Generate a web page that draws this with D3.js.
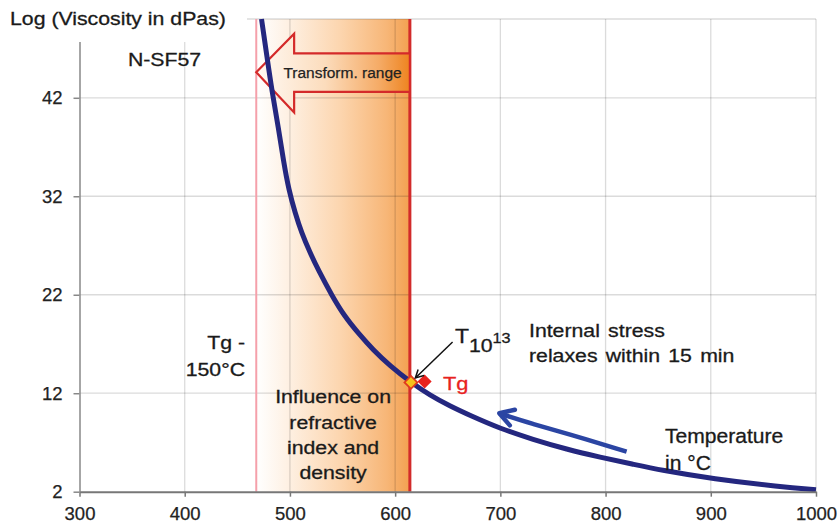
<!DOCTYPE html>
<html>
<head>
<meta charset="utf-8">
<script src="https://cdn.jsdelivr.net/npm/d3@7"></script>
<style>
  body { margin: 0; background: #fff; }
  svg { display: block; font-family: "Liberation Sans", Arial, sans-serif; }
</style>
</head>
<body>
<main></main>
<script>
// chart data
const tempTicks = [300, 400, 500, 600, 700, 800, 900, 1000];
const logTicks = [2, 12, 22, 32, 42];
const curveTemp = [473, 478, 483, 489, 494, 499, 505, 511, 519, 527, 540, 552, 565, 579, 595, 615, 633, 652, 671, 700, 731, 763, 795, 826, 852, 902, 966, 1000];
const curveLog = [50, 46.3, 42.6, 39.0, 35.5, 32.6, 30.3, 28.3, 26.3, 24.5, 21.9, 19.8, 18.1, 16.4, 14.8, 13.1, 11.8, 10.7, 9.75, 8.4, 7.3, 6.3, 5.5, 4.8, 4.2, 3.3, 2.5, 2.2];
const tgTemp = 614;            // red line
const tgLowTemp = 468;         // Tg - 150 line
const t13Point = [615, 13.1];  // yellow diamond
const tgPoint = [628, 13.2];   // red diamond
const coolTemp = [820, 763, 731, 699];   // blue arrow along the curve
const coolLog = [6.06, 7.93, 8.85, 9.96];

// layout
const width = 839;
const height = 525;
const plotLeft = 79.5;
const plotRight = 816;
const plotTop = 19;
const plotBottom = 491.7;
const textStretch = 1.15;

const svg = d3.select('main')
  .append('svg')
  .attr('width', width)
  .attr('height', height);

const x = d3.scaleLinear().domain([300, 1000]).range([plotLeft, plotRight]);
const y = d3.scaleLinear().domain([2, 50]).range([plotBottom, plotTop]);

/************************************************************************
  gradients
************************************************************************/
const defs = svg.append('defs');

const bandGrad = defs.append('linearGradient').attr('id', 'bandGrad');
[[0, '#ffffff'], [0.2, '#fef1e4'], [0.55, '#fcd5ae'], [0.85, '#f7b677'], [1, '#f3a050']]
  .forEach(([o, c]) => bandGrad.append('stop').attr('offset', o).attr('stop-color', c));

const arrowGrad = defs.append('linearGradient').attr('id', 'arrowGrad');
[[0, '#fffaf5'], [0.45, '#fcdcbc'], [0.8, '#f5ab66'], [1, '#ee8420']]
  .forEach(([o, c]) => arrowGrad.append('stop').attr('offset', o).attr('stop-color', c));

/************************************************************************
  transformation range band
************************************************************************/
svg.append('rect')
  .attr('x', x(tgLowTemp))
  .attr('y', plotTop)
  .attr('width', x(tgTemp) - x(tgLowTemp))
  .attr('height', plotBottom - plotTop)
  .attr('fill', 'url(#bandGrad)');

/************************************************************************
  grid
************************************************************************/
const grid = svg.append('g')
  .attr('stroke', '#000')
  .attr('stroke-opacity', 0.14)
  .attr('stroke-width', 1.3);

grid.selectAll('.vgrid')
  .data(tempTicks.slice(1))
  .enter()
  .append('line')
  .attr('x1', d => x(d))
  .attr('x2', d => x(d))
  .attr('y1', plotTop)
  .attr('y2', plotBottom);

grid.selectAll('.hgrid')
  .data(logTicks.slice(1).concat([50]))
  .enter()
  .append('line')
  .attr('x1', plotLeft)
  .attr('x2', plotRight)
  .attr('y1', d => y(d))
  .attr('y2', d => y(d));

// Tg - 150 and Tg lines
svg.append('line')
  .attr('x1', x(tgLowTemp)).attr('x2', x(tgLowTemp))
  .attr('y1', plotTop).attr('y2', plotBottom)
  .attr('stroke', '#f5a0aa')
  .attr('stroke-width', 2);

svg.append('line')
  .attr('x1', x(tgTemp)).attr('x2', x(tgTemp))
  .attr('y1', plotTop).attr('y2', plotBottom)
  .attr('stroke', '#d22b2b')
  .attr('stroke-width', 3);

/************************************************************************
  "Transform. range" arrow
************************************************************************/
const headTemp = 504;
const arrowShape = [
  [tgLowTemp, 44.6], [headTemp, 48.5], [headTemp, 46.5], [tgTemp, 46.5],
  [tgTemp, 42.6], [headTemp, 42.6], [headTemp, 40.5]
];
svg.append('polygon')
  .attr('points', arrowShape.map(d => `${x(d[0])},${y(d[1])}`).join(' '))
  .attr('fill', 'url(#arrowGrad)')
  .attr('stroke', '#d42a2a')
  .attr('stroke-width', 2.2)
  .attr('stroke-linejoin', 'miter');

svg.append('text')
  .attr('x', x(550))
  .attr('y', y(43.97))
  .attr('text-anchor', 'middle')
  .attr('font-size', 15.5)
  .attr('fill', '#222')
  .attr('stroke', '#222')
  .attr('stroke-width', 0.25)
  .text('Transform. range');

/************************************************************************
  viscosity curve
************************************************************************/
const curveData = curveTemp.map((t, i) => [t, curveLog[i]]);
const line = d3.line()
  .x(d => x(d[0]))
  .y(d => y(d[1]))
  .curve(d3.curveBasis);

svg.append('path')
  .datum(curveData)
  .attr('d', line)
  .attr('fill', 'none')
  .attr('stroke', '#24277f')
  .attr('stroke-width', 5)
  .attr('stroke-linecap', 'butt');

// open arrow head from a tip, pointing away from a previous point (pixels)
const headPath = (tip, from, len, spread) => {
  const a = Math.atan2(from[1] - tip[1], from[0] - tip[0]);
  const s = spread * Math.PI / 180;
  const p1 = [tip[0] + len * Math.cos(a - s), tip[1] + len * Math.sin(a - s)];
  const p2 = [tip[0] + len * Math.cos(a + s), tip[1] + len * Math.sin(a + s)];
  return `M${p1[0]},${p1[1]}L${tip[0]},${tip[1]}L${p2[0]},${p2[1]}`;
};

// cooling direction arrow
const coolData = coolTemp.map((t, i) => [t, coolLog[i]]);
svg.append('path')
  .datum(coolData)
  .attr('d', line)
  .attr('fill', 'none')
  .attr('stroke', '#2b45a3')
  .attr('stroke-width', 4.5);

const coolTip = [x(coolTemp[3]), y(coolLog[3])];
svg.append('path')
  .attr('d', headPath(coolTip, [x(731), y(8.85)], 16, 31))
  .attr('fill', 'none')
  .attr('stroke', '#2b45a3')
  .attr('stroke-width', 4.5)
  .attr('stroke-linecap', 'round')
  .attr('stroke-linejoin', 'round');

/************************************************************************
  markers
************************************************************************/
const diamond = d3.symbol().type(d3.symbolDiamond2);

svg.append('path')
  .attr('d', diamond.size(125)())
  .attr('transform', `translate(${x(tgPoint[0])},${y(tgPoint[1])})`)
  .attr('fill', '#e8221e');

svg.append('path')
  .attr('d', diamond.size(105)())
  .attr('transform', `translate(${x(t13Point[0])},${y(t13Point[1])})`)
  .attr('fill', '#f6c21c')
  .attr('stroke', '#e03a1e')
  .attr('stroke-width', 1.8);

// pointer from the T label to the yellow diamond
const ptrFrom = [x(654.6), y(17.2)];
const ptrTip = [x(619.2), y(13.55)];
svg.append('line')
  .attr('x1', ptrFrom[0]).attr('y1', ptrFrom[1])
  .attr('x2', ptrTip[0]).attr('y2', ptrTip[1])
  .attr('stroke', '#111')
  .attr('stroke-width', 1.5);
svg.append('path')
  .attr('d', headPath(ptrTip, ptrFrom, 9, 28))
  .attr('fill', 'none')
  .attr('stroke', '#111')
  .attr('stroke-width', 1.5);

/************************************************************************
  axes
************************************************************************/
const fontStack = '"Liberation Sans", Arial, sans-serif';

const xAxis = svg.append('g')
  .attr('transform', `translate(0, ${plotBottom})`)
  .call(d3.axisBottom(x).tickValues(tempTicks).tickFormat(d3.format('d'))
    .tickSize(5).tickPadding(10).tickSizeOuter(0));
xAxis.select('.domain').attr('stroke', '#777').attr('stroke-width', 2);
xAxis.selectAll('.tick line').attr('stroke', '#777').attr('stroke-width', 1.5);
xAxis.selectAll('text').attr('font-size', 18.5).attr('fill', '#222')
  .attr('stroke', '#222').attr('stroke-width', 0.25).attr('font-family', fontStack);

const yAxis = svg.append('g')
  .attr('transform', `translate(${plotLeft}, 0)`)
  .call(d3.axisLeft(y).tickValues(logTicks).tickSize(6).tickPadding(11).tickSizeOuter(0));
yAxis.select('.domain').attr('stroke', '#888').attr('stroke-width', 1.5);
yAxis.selectAll('.tick line').attr('stroke', '#888').attr('stroke-width', 1.5);
yAxis.selectAll('text').attr('font-size', 18.5).attr('fill', '#222')
  .attr('stroke', '#222').attr('stroke-width', 0.25).attr('font-family', fontStack);

/************************************************************************
  text annotations
************************************************************************/
const note = (t, v, str, opts = {}) => svg.append('text')
  .attr('transform', `translate(${x(t)},${y(v)}) scale(${opts.sx || textStretch},1)`)
  .attr('text-anchor', opts.anchor || 'start')
  .attr('font-size', opts.size || 18.5)
  .attr('fill', opts.fill || '#1a1a1a')
  .attr('stroke', opts.fill || '#1a1a1a')
  .attr('stroke-width', 0.3)
  .attr('word-spacing', opts.ws || 0)
  .text(str);

// axis title sits on a white box that cuts the frame
svg.append('rect')
  .attr('x', 0).attr('y', 0)
  .attr('width', 247).attr('height', 42)
  .attr('fill', '#fff');
svg.append('text')
  .attr('transform', `translate(10,25) scale(${textStretch},1)`)
  .attr('font-size', 18.5)
  .attr('fill', '#1a1a1a')
  .attr('stroke', '#1a1a1a')
  .attr('stroke-width', 0.3)
  .text('Log (Viscosity in dPas)');

note(346, 45.2, 'N-SF57');

note(457.3, 16.5, 'Tg -', { anchor: 'end' });
note(457.3, 13.75, '150°C', { anchor: 'end' });

['Influence on', 'refractive', 'index and', 'density'].forEach((s, i) => {
  note(541, [10.97, 8.35, 5.8, 3.25][i], s, { anchor: 'middle' });
});

note(727.2, 17.74, 'Internal stress', { ws: 2 });
note(727.2, 15.2, 'relaxes within 15 min', { ws: 2 });

note(645.5, 12.32, 'Tg', { fill: '#e8221e', size: 19 });

note(856.5, 6.91, 'Temperature', { size: 19.5, sx: 1.08 });
note(856.5, 4.2, 'in °C', { size: 19.5, sx: 1.08 });

// T with subscript 10 and superscript 13
const tLabel = svg.append('text')
  .attr('transform', `translate(${x(656.8)},${y(17.1)}) scale(1.12,1)`)
  .attr('fill', '#1a1a1a')
  .attr('stroke', '#1a1a1a')
  .attr('stroke-width', 0.3);
tLabel.append('tspan').attr('font-size', 20.5).text('T');
tLabel.append('tspan').attr('font-size', 19).attr('dy', 8.7).text('10');
tLabel.append('tspan').attr('font-size', 14.5).attr('dy', -8.7).text('13');
</script>
</body>
</html>
